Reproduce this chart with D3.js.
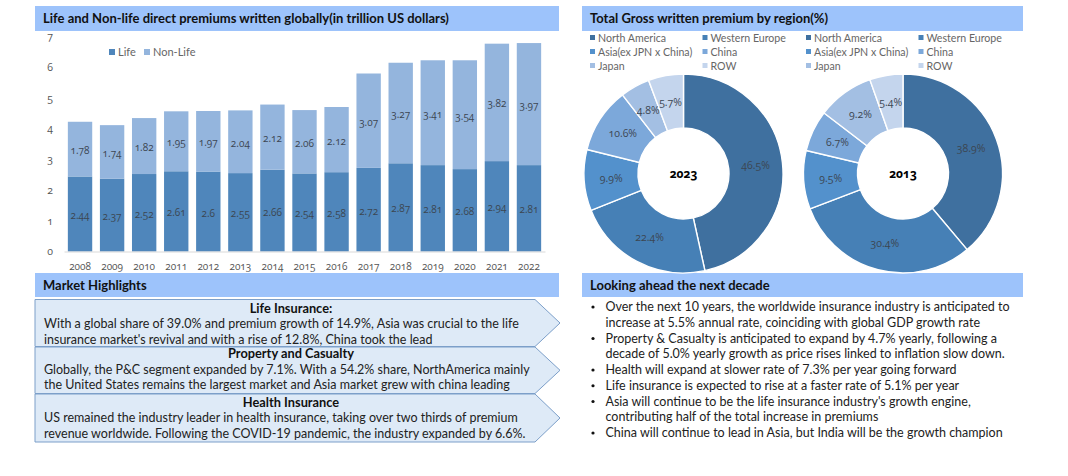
<!DOCTYPE html>
<html><head><meta charset="utf-8">
<script src="https://cdn.jsdelivr.net/npm/d3@7"></script>
<style>
html,body{margin:0;padding:0;background:#fff}
svg{display:block}
text{font-family:Lato,"Open Sans",sans-serif}
.num{font-family:"Open Sans",Lato,sans-serif;font-feature-settings:"onum" 1;font-variant-numeric:oldstyle-nums}
</style></head><body><svg id="c" width="1068" height="476"></svg>
<script>
const years=["2008","2009","2010","2011","2012","2013","2014","2015","2016","2017","2018","2019","2020","2021","2022"];
const life=[2.44,2.37,2.52,2.61,2.6,2.55,2.66,2.54,2.58,2.72,2.87,2.81,2.68,2.94,2.81];
const nonLife=[1.78,1.74,1.82,1.95,1.97,2.04,2.12,2.06,2.12,3.07,3.27,3.41,3.54,3.82,3.97];
const yTicks=[0,1,2,3,4,5,6,7];
const regions=["North America","Western Europe","Asia(ex JPN x China)","China","Japan","ROW"];
const share2023=[46.5,22.4,9.9,10.6,4.8,5.7];
const share2013=[38.9,30.4,9.5,6.7,9.2,5.4];
const regionColors=["#3f709f","#4680b6","#5391cc","#7ca8da","#a3bfe3","#c4d5ed"];
const headers=["Life and Non-life direct premiums written globally(in trillion US dollars)","Total Gross written premium by region(%)","Market Highlights","Looking ahead the next decade"];
const highlightTitles=["Life Insurance:","Property and Casualty","Health Insurance"];
const highlightLines=[
["With a global share of 39.0% and premium growth of 14.9%, Asia was crucial to the life","insurance market's revival and with a rise of 12.8%, China took the lead"],
["Globally, the P&C segment expanded by 7.1%. With a 54.2% share, NorthAmerica mainly","the United States remains the largest market and Asia market grew with china leading"],
["US remained the industry leader in health insurance, taking over two thirds of premium","revenue worldwide. Following the COVID-19 pandemic, the industry expanded by 6.6%."]];
const bullets=[
["Over the next 10 years, the worldwide insurance industry is anticipated to","increase at 5.5% annual rate, coinciding with global GDP growth rate"],
["Property & Casualty is anticipated to expand by 4.7% yearly, following a","decade of 5.0% yearly growth as price rises linked to inflation slow down."],
["Health will expand at slower rate of 7.3% per year going forward"],
["Life insurance is expected to rise at a faster rate of 5.1% per year"],
["Asia will continue to be the life insurance industry's growth engine,","contributing half of the total increase in premiums"],
["China will continue to lead in Asia, but India will be the growth champion"]];

const svg=d3.select("#c");
const headFill="#9dc3fb";
[[35,6,524,25,0],[582,6,441,25,1],[35,273,524,24,2],[582,273,441,24,3]].forEach(h=>{
  svg.append("rect").attr("x",h[0]).attr("y",h[1]).attr("width",h[2]).attr("height",h[3]).attr("fill",headFill);
  svg.append("text").attr("x",h[0]+8).attr("y",h[1]+h[3]/2+4.5).attr("font-size",13).attr("font-weight",700).attr("fill","#111").text(headers[h[4]]);
});

// bars
const x=d3.scaleBand().domain(years).range([64,545]).paddingInner(0.24).paddingOuter(0.12);
const y=d3.scaleLinear().domain([0,7]).range([251.5,36.3]);
const cLife="#4f86bb",cNon="#94b5dd";
const g=svg.append("g");
const stack=years.map((d,i)=>({year:d,life:life[i],non:nonLife[i]}));
g.selectAll(".l").data(stack).join("rect").attr("x",d=>x(d.year)).attr("width",x.bandwidth()).attr("y",d=>y(d.life)).attr("height",d=>y(0)-y(d.life)).attr("fill",cLife);
g.selectAll(".n").data(stack).join("rect").attr("x",d=>x(d.year)).attr("width",x.bandwidth()).attr("y",d=>y(d.life+d.non)).attr("height",d=>y(d.life)-y(d.life+d.non)).attr("fill",cNon);
const lab=(sel,fn,val)=>sel.join("text").attr("class","num").attr("x",d=>x(d.year)+x.bandwidth()/2).attr("y",d=>fn(d)+5).attr("text-anchor","middle").attr("font-size",10).attr("fill","#3c4652").text(val);
lab(g.selectAll(".lt").data(stack),d=>y(d.life/2),d=>d.life);
lab(g.selectAll(".nt").data(stack),d=>y(d.life+d.non/2),d=>d.non);
const ax=d3.axisBottom(x).tickSize(0).tickPadding(11);
const gx=svg.append("g").attr("transform","translate(0,251.5)").call(ax);
gx.select(".domain").attr("stroke","#d9d9d9");
gx.selectAll("text").attr("class","num").attr("font-size",10).attr("fill","#555").style("font-family",null).attr("font-family",null);
gx.attr("font-family",null);
const ay=d3.axisLeft(y).tickValues(yTicks).tickFormat(d3.format("d")).tickSize(0).tickPadding(0);
const gy=svg.append("g").attr("transform","translate(53,0)").call(ay);
gy.select(".domain").remove();
gy.attr("font-family",null);
gy.selectAll("text").attr("class","num").attr("font-size",10.5).attr("fill","#555");
[["Life",109,cLife,118],["Non-Life",144,cNon,153]].forEach(l=>{
  svg.append("rect").attr("x",l[1]).attr("y",49).attr("width",6).attr("height",6).attr("fill",l[2]);
  svg.append("text").attr("x",l[3]).attr("y",56).attr("font-size",11).attr("fill","#666").text(l[0]);
});

// donuts
function donut(cx,lx,vals,yr){
  const r=99.5,ri=45.5;
  const p=d3.pie().sort(null)(vals);
  const arc=d3.arc().innerRadius(ri).outerRadius(r);
  const gd=svg.append("g").attr("transform",`translate(${cx},173.5)`);
  gd.selectAll("path").data(p).join("path").attr("d",arc).attr("fill",(d,i)=>regionColors[i]).attr("stroke","#fff").attr("stroke-width",1.4);
  gd.selectAll("text.v").data(p).join("text").attr("class","v num").attr("transform",d=>`translate(${arc.centroid(d)})`).attr("dy",3.5).attr("text-anchor","middle").attr("font-size",10.5).attr("fill","#3c4652").text(d=>d.data+"%");
  gd.append("text").attr("class","num").attr("text-anchor","middle").attr("dy",4).attr("font-size",12).attr("font-weight",700).attr("fill","#000").text(yr);
  regions.forEach((n,i)=>{
    const col=i%2,row=(i-col)/2,X=lx+col*112.5,Y=38+row*14;
    svg.append("rect").attr("x",X).attr("y",Y-3).attr("width",5).attr("height",5).attr("fill",regionColors[i]);
    svg.append("text").attr("x",X+8).attr("y",Y+4).attr("font-size",10.6).attr("fill","#666").text(n);
  });
}
donut(683.5,590,share2023,"2023");
donut(903,806,share2013,"2013");

// chevrons
const chev=[[299.5,346.5,13,28,44.5],[347,393.5,11,27,42],[394,442,13,28,44]];
const ln=d3.line();
chev.forEach((c,i)=>{
  const mid=(c[0]+c[1])/2;
  svg.append("path").attr("d",ln([[35,c[0]],[535,c[0]],[560,mid],[535,c[1]],[35,c[1]]])+"Z").attr("fill","#deeaf7").attr("stroke","#7c9fc9").attr("stroke-width",1);
  svg.append("text").attr("x",291).attr("y",c[0]+c[2]).attr("text-anchor","middle").attr("font-size",12.8).attr("font-weight",700).attr("fill","#111").text(highlightTitles[i]);
  highlightLines[i].forEach((t,j)=>svg.append("text").attr("x",44).attr("y",c[0]+c[3+j]).attr("font-size",12.5).attr("fill","#222").text(t));
});

// bullets
let by=311;
bullets.forEach(b=>{
  svg.append("circle").attr("cx",593).attr("cy",by-4).attr("r",1.6).attr("fill","#111");
  b.forEach(t=>{svg.append("text").attr("x",605.5).attr("y",by).attr("font-size",12.5).attr("fill","#222").text(t);by+=15.75;});
});
</script></body></html>
